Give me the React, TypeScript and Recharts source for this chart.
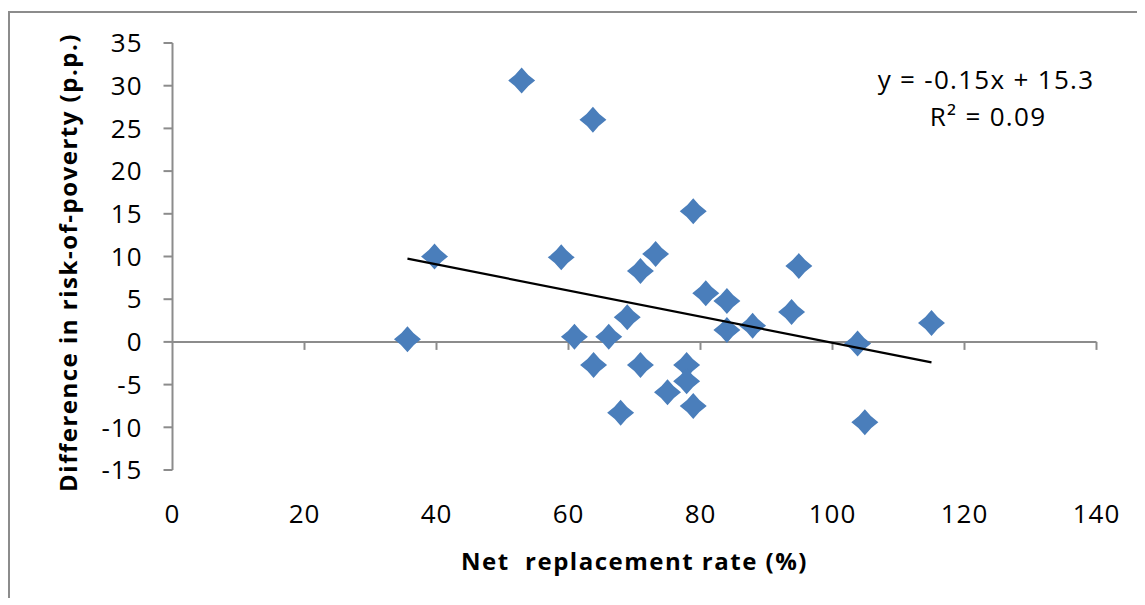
import React from 'react';
import { ScatterChart, Scatter, XAxis, YAxis, ReferenceLine } from 'recharts';

// Net replacement rate (%)
const nrr = [35.6, 39.7, 52.9, 58.9, 63.7, 60.9, 63.8, 66.1, 67.9, 68.9, 70.9, 70.9, 73.2, 75.0, 77.9, 77.9, 78.9, 78.9, 80.8, 84.0, 84.0, 87.9, 93.8, 94.9, 103.8, 104.9, 115.0];
// Difference in risk-of-poverty (p.p.)
const diff = [0.3, 10.0, 30.6, 9.9, 26.0, 0.6, -2.7, 0.6, -8.3, 2.9, 8.3, -2.7, 10.3, -5.9, -2.7, -4.6, 15.3, -7.5, 5.7, 4.8, 1.4, 1.9, 3.5, 8.9, -0.2, -9.4, 2.2];
// Linear trend line endpoints
const trendX = [35.6, 115.0];
const trendY = [9.75, -2.4];

const xTicks = [0, 20, 40, 60, 80, 100, 120, 140];
const yTicks = [-15, -10, -5, 0, 5, 10, 15, 20, 25, 30, 35];
const xDomain: [number, number] = [0, 140];
const yDomain: [number, number] = [-15, 35];

const equation = 'y = -0.15x + 15.3';
const rSquared = 'R² = 0.09';
const xTitle = 'Net  replacement rate (%)';
const yTitle = 'Difference in risk-of-poverty (p.p.)';

const points = nrr.map((x, i) => ({ x, y: diff[i] }));
const trend = trendX.map((x, i) => ({ x, y: trendY[i] }));

const FONT = '"Open Sans", "Noto Sans", sans-serif';
const AXIS = '#8c8c8c';
const MARK = '#4a7ebb';

const Diamond = (props: any) => {
  const { cx, cy } = props;
  if (cx == null || cy == null) return <g />;
  const w = 13.5;
  const h = 13;
  const k = 0.42;
  const d = `M ${cx} ${cy - h} Q ${cx + w * k} ${cy - h * k} ${cx + w} ${cy} Q ${cx + w * k} ${cy + h * k} ${cx} ${cy + h} Q ${cx - w * k} ${cy + h * k} ${cx - w} ${cy} Q ${cx - w * k} ${cy - h * k} ${cx} ${cy - h} Z`;
  return <path d={d} fill={MARK} stroke="none" />;
};

const ZeroAxis = (props: any) => {
  const { x1, x2, y1 } = props;
  if (x1 == null) return <g />;
  const span = xDomain[1] - xDomain[0];
  return (
    <g>
      <line x1={x1} x2={x2} y1={y1} y2={y1} stroke={AXIS} strokeWidth={2} />
      {xTicks.slice(1).map((t) => {
        const tx = x1 + ((t - xDomain[0]) / span) * (x2 - x1);
        return <line key={t} x1={tx} x2={tx} y1={y1} y2={y1 + 8} stroke={AXIS} strokeWidth={2} />;
      })}
    </g>
  );
};

const XTitle = (props: any) => {
  const vb = props.viewBox || {};
  return (
    <text x={vb.x + vb.width / 2} y={vb.y + 100} textAnchor="middle" fontFamily={FONT} fontWeight="bold" fontSize={24} fill="#000" style={{ whiteSpace: 'pre', letterSpacing: '1.5px' }}>
      {xTitle}
    </text>
  );
};

const YTitle = (props: any) => {
  const vb = props.viewBox || {};
  const x = vb.x + 14;
  const y = vb.y + vb.height / 2 + 6;
  return (
    <text x={x} y={y} transform={`rotate(-90 ${x} ${y})`} textAnchor="middle" fontFamily={FONT} fontWeight="bold" fontSize={24} fill="#000" style={{ letterSpacing: '1.5px' }}>
      {yTitle}
    </text>
  );
};

const tickStyle = { fontSize: 26, fontFamily: FONT, fill: '#000', style: { letterSpacing: '1px' } };

export default function App() {
  return (
    <div style={{ position: 'relative', width: 1137, height: 590, overflow: 'hidden', background: '#fff' }}>
      <div
        style={{
          position: 'absolute',
          left: 0,
          top: 3,
          width: 1400,
          height: 800,
          borderLeft: `2px solid ${AXIS}`,
          borderTop: `2px solid ${AXIS}`,
        }}
      />
      <div style={{ position: 'absolute', left: 0, top: 0 }}>
        <ScatterChart width={1137} height={590} margin={{ top: 35, right: 48.5, left: 54.5, bottom: 28 }}>
          <XAxis
            type="number"
            dataKey="x"
            domain={xDomain}
            ticks={xTicks}
            axisLine={false}
            tickLine={false}
            tickSize={0}
            tickMargin={35}
            height={100}
            interval={0}
            tick={tickStyle}
            label={<XTitle />}
          />
          <YAxis
            type="number"
            dataKey="y"
            domain={yDomain}
            ticks={yTicks}
            width={110}
            interval={0}
            axisLine={{ stroke: AXIS, strokeWidth: 2 }}
            tickLine={{ stroke: AXIS, strokeWidth: 2 }}
            tickSize={9}
            tickMargin={21}
            tick={tickStyle}
            label={<YTitle />}
          />
          <ReferenceLine y={0} shape={<ZeroAxis />} ifOverflow="visible" />
          <Scatter data={points} shape={<Diamond />} isAnimationActive={false} legendType="none" />
          <Scatter
            data={trend}
            line={{ stroke: '#000', strokeWidth: 2.2 }}
            shape={() => <g />}
            isAnimationActive={false}
            legendType="none"
          />
        </ScatterChart>
      </div>
      <svg width={1137} height={590} style={{ position: 'absolute', left: 0, top: 0, pointerEvents: 'none' }}>
        <text x={978} y={81} textAnchor="middle" fontFamily={FONT} fontSize={26} fill="#000" style={{ letterSpacing: '1.3px' }}>{equation}</text>
        <text x={980} y={118} textAnchor="middle" fontFamily={FONT} fontSize={26} fill="#000" style={{ letterSpacing: '1.3px' }}>{rSquared}</text>
      </svg>
    </div>
  );
}
